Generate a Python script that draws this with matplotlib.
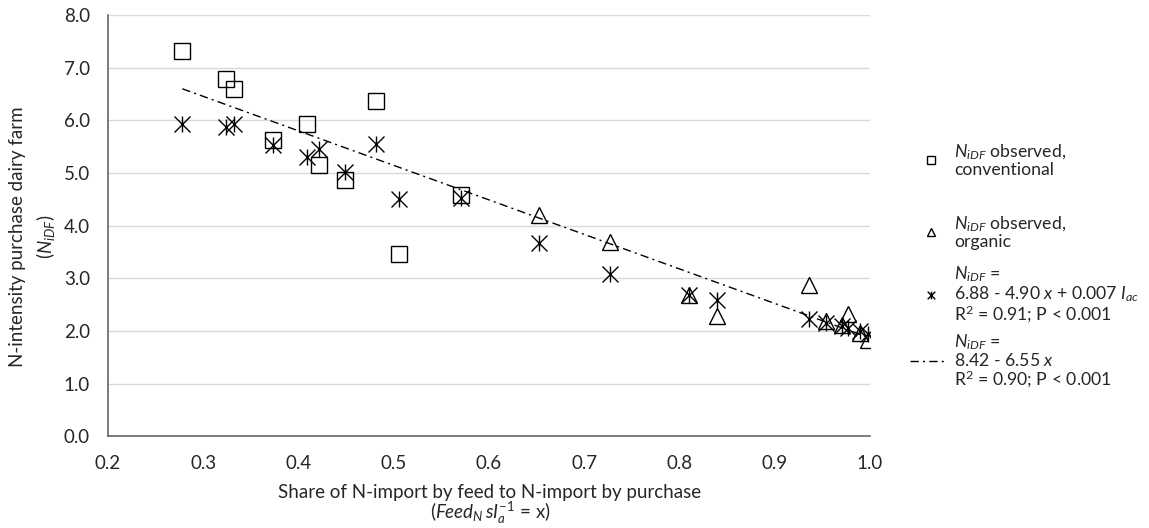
import matplotlib
matplotlib.use("Agg")

import matplotlib.pyplot as plt
from matplotlib.lines import Line2D
from matplotlib.path import Path

# Datos
conv_x = [0.278, 0.324, 0.332, 0.373, 0.409, 0.421, 0.449, 0.481, 0.506, 0.571]
conv_obs = [7.31, 6.79, 6.60, 5.62, 5.94, 5.15, 4.87, 6.37, 3.46, 4.58]
conv_fit = [5.94, 5.88, 5.93, 5.53, 5.31, 5.45, 5.02, 5.56, 4.51, 4.53]

org_x = [0.653, 0.727, 0.810, 0.839, 0.936, 0.954, 0.971, 0.977, 0.989, 0.998]
org_obs = [4.21, 3.69, 2.68, 2.28, 2.88, 2.20, 2.12, 2.33, 1.97, 1.83]
org_fit = [3.68, 3.09, 2.69, 2.59, 2.23, 2.16, 2.09, 2.05, 2.01, 1.95]

trend_x = [0.278, 1.0]
trend_y = [6.60, 1.87]

x_ticks = [0.2, 0.3, 0.4, 0.5, 0.6, 0.7, 0.8, 0.9, 1.0]
y_ticks = [0.0, 1.0, 2.0, 3.0, 4.0, 5.0, 6.0, 7.0, 8.0]

# Fuentes
plt.rcParams['font.family'] = ['Lato', 'DejaVu Sans']
plt.rcParams['mathtext.fontset'] = 'custom'
plt.rcParams['mathtext.rm'] = 'Lato'
plt.rcParams['mathtext.it'] = 'Lato:italic'
plt.rcParams['mathtext.bf'] = 'Lato:bold'

FS = 13.5
FS_LEG = 12.7
TXT = '#262626'

# Marcador tipo asterisco de Excel (X + linea vertical)
star = Path(
    [(-1, -1), (1, 1), (-1, 1), (1, -1), (0, -1), (0, 1)],
    [Path.MOVETO, Path.LINETO, Path.MOVETO, Path.LINETO, Path.MOVETO, Path.LINETO],
)

fig = plt.figure(figsize=(11.49, 5.28), dpi=100)
ax = fig.add_axes([0.094, 0.1733, 0.6632, 0.7983])

ax.plot(conv_x, conv_obs, linestyle='none', marker='s', ms=12,
        mfc='none', mec='black', mew=1.0, zorder=3)
ax.plot(org_x, org_obs, linestyle='none', marker='^', ms=12,
        mfc='none', mec='black', mew=1.0, zorder=3)
ax.plot(conv_x + org_x, conv_fit + org_fit, linestyle='none', marker=star,
        ms=11.5, mfc='none', mec='black', mew=1.0, zorder=4)
ax.plot(trend_x, trend_y, color='black', linewidth=1.0,
        linestyle=(0, (6, 3, 1.5, 3)), zorder=5)

# Ejes
ax.set_xlim(0.2, 1.0)
ax.set_ylim(0.0, 8.0)
ax.set_xticks(x_ticks)
ax.set_yticks(y_ticks)
ax.set_xticklabels([f"{v:.1f}" for v in x_ticks])
ax.set_yticklabels([f"{v:.1f}" for v in y_ticks])
ax.tick_params(axis='both', length=0, labelsize=FS, colors=TXT)
ax.tick_params(axis='y', pad=13)
ax.tick_params(axis='x', pad=13)
ax.grid(axis='y', color='#d9d9d9', linewidth=1.0)
ax.set_axisbelow(True)
for side in ['top', 'right']:
    ax.spines[side].set_visible(False)
for side in ['left', 'bottom']:
    ax.spines[side].set_color('#595959')
    ax.spines[side].set_linewidth(1.1)

# Titulos de ejes
fig.text(33 / 1149, 1 - 237 / 528, "N-intensity purchase dairy farm\n($N_{iDF}$)",
         rotation=90, ha='center', va='center', fontsize=FS,
         linespacing=1.45, color=TXT)
fig.text(490 / 1149, 1 - 505 / 528,
         "Share of N-import by feed to N-import by purchase\n"
         r"($\mathit{Feed}_{N}\,\mathit{sI}_{a}^{-1}$ = x)",
         ha='center', va='center', fontsize=FS, linespacing=0.95,
         color=TXT)

# Leyenda manual
W, H = 1149, 528
legend_items = [
    (160, 's', "$N_{iDF}$ observed,\nconventional"),
    (232, '^', "$N_{iDF}$ observed,\norganic"),
    (295, 'star', "$N_{iDF}$ =\n6.88 - 4.90 $x$ + 0.007 $I_{ac}$\nR$^{2}$ = 0.91; P < 0.001"),
    (361, 'line', "$N_{iDF}$ =\n8.42 - 6.55 $x$\nR$^{2}$ = 0.90; P < 0.001"),
]
for ypix, kind, label in legend_items:
    yf = 1 - ypix / H
    if kind == 'line':
        fig.add_artist(Line2D([910 / W, 944 / W], [yf, yf], transform=fig.transFigure,
                              color='black', linewidth=1.0,
                              linestyle=(0, (6, 3, 1.5, 3))))
    else:
        m = star if kind == 'star' else kind
        fig.add_artist(Line2D([931 / W], [yf], transform=fig.transFigure,
                              linestyle='none', marker=m, ms=5.5, mfc='none',
                              mec='black', mew=1.0))
    fig.text(954 / W, yf, label, ha='left', va='center', fontsize=FS_LEG,
             linespacing=1.0, color=TXT)

plt.savefig("out.png", dpi=100)
plt.close()
